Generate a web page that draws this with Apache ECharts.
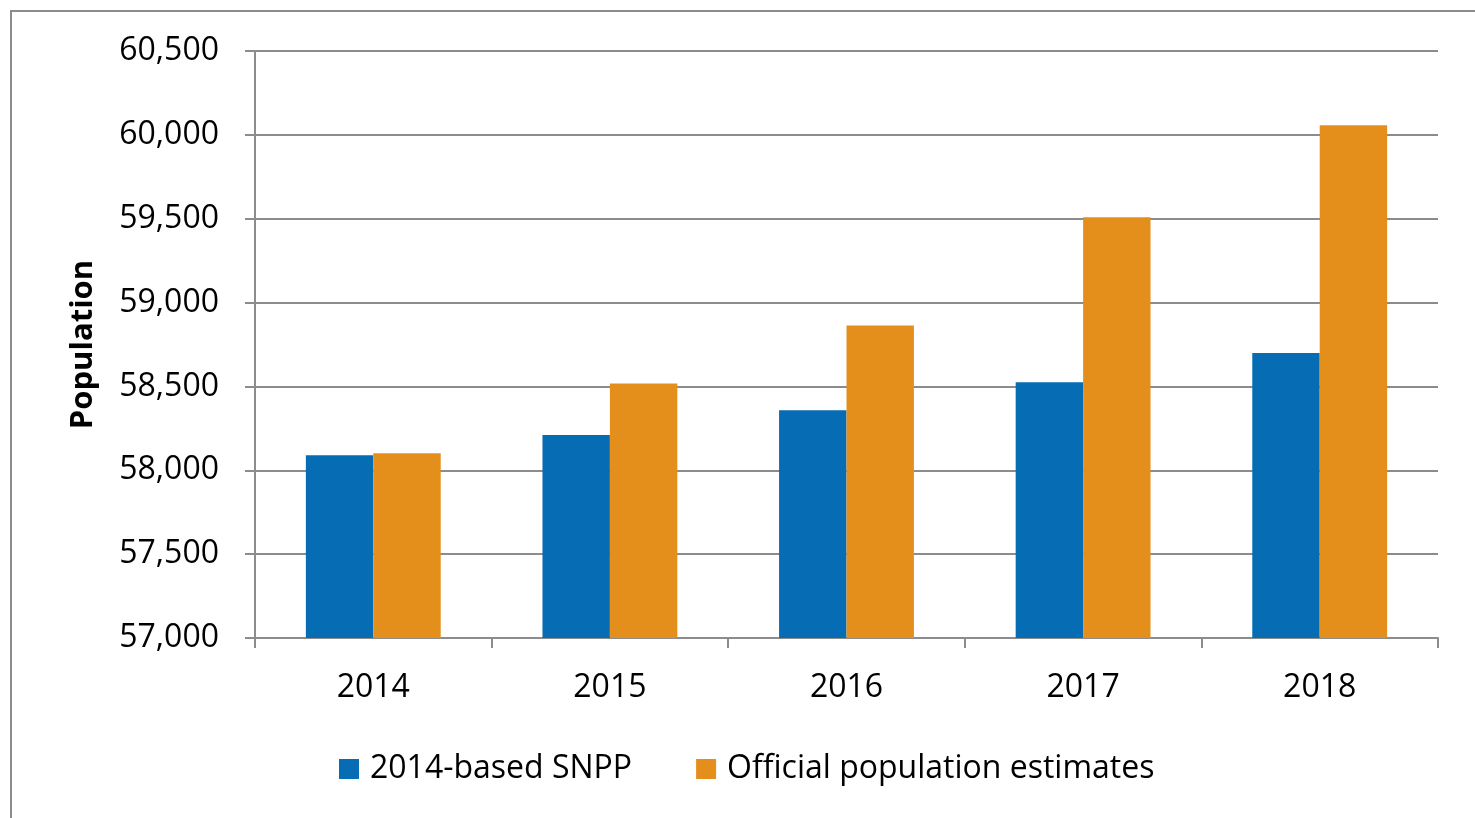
<!DOCTYPE html>
<html>
<head>
<meta charset="utf-8">
<script src="https://cdn.jsdelivr.net/npm/echarts@6/dist/echarts.min.js"></script>
<style>
  html, body { margin: 0; padding: 0; background: #fff; }
  #frame {
    position: absolute; left: 10px; top: 10px; width: 1475px; height: 818px;
    border-left: 2px solid #8c8c8c; border-top: 2px solid #8c8c8c;
  }
  #chart { position: absolute; left: 0; top: 0; width: 1475px; height: 818px; }
</style>
</head>
<body>
<div id="frame"></div>
<div id="chart"></div>
<script>
const years = ['2014', '2015', '2016', '2017', '2018']
const snpp = [58090, 58210, 58358, 58525, 58700]
const official = [58102, 58518, 58863, 59508, 60058]

const axisColor = '#8c8c8c'
const font = '"Open Sans", sans-serif'

const myChart = echarts.init(document.getElementById('chart'))
myChart.setOption({
  animation: false,
  grid: { left: 255, right: 37, top: 51, bottom: 180 },
  legend: {
    left: 334,
    top: 748,
    itemWidth: 20,
    itemHeight: 20,
    itemGap: 64,
    icon: 'rect',
    textStyle: { fontFamily: font, fontSize: 32, color: '#000', padding: [0, 0, 0, 6] },
    data: ['2014-based SNPP', 'Official population estimates']
  },
  xAxis: {
    type: 'category',
    data: years,
    axisLine: { lineStyle: { color: axisColor, width: 2 } },
    axisTick: { show: true, length: 10, lineStyle: { color: axisColor, width: 2 } },
    axisLabel: { fontFamily: font, fontSize: 32, color: '#000', margin: 34 }
  },
  yAxis: {
    type: 'value',
    min: 57000,
    max: 60500,
    interval: 500,
    name: 'Population',
    nameLocation: 'middle',
    nameGap: 156,
    nameTextStyle: { fontFamily: font, fontSize: 31, fontWeight: 'bold', color: '#000' },
    axisLine: { show: true, lineStyle: { color: axisColor, width: 2 } },
    axisTick: { show: true, length: 10, lineStyle: { color: axisColor, width: 2 } },
    splitLine: { lineStyle: { color: axisColor, width: 2 } },
    axisLabel: {
      fontFamily: font, fontSize: 32, color: '#000', margin: 36,
      formatter: v => v.toLocaleString('en-US')
    }
  },
  series: [
    {
      name: '2014-based SNPP',
      type: 'bar',
      data: snpp,
      barGap: '0%',
      barCategoryGap: '43%',
      itemStyle: { color: '#066db5' }
    },
    {
      name: 'Official population estimates',
      type: 'bar',
      data: official,
      itemStyle: { color: '#e48f1c' }
    }
  ]
})
</script>
</body>
</html>
